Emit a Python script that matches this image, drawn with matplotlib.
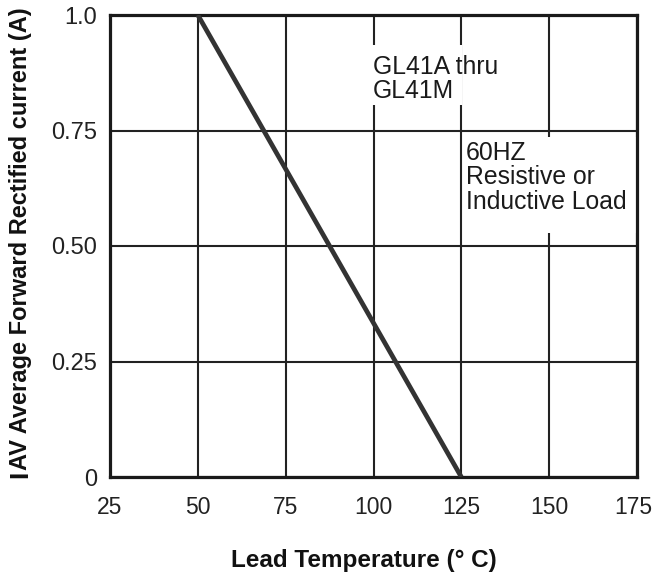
import matplotlib.pyplot as plt
import matplotlib.transforms as mtrans
from matplotlib.patches import Rectangle

# derating curve data
temp = [25, 50, 125]
current = [1.0, 1.0, 0.0]
xticks = [25, 50, 75, 100, 125, 150, 175]
yticks = [0, 0.25, 0.50, 0.75, 1.0]
ylabels = ["0", "0.25", "0.50", "0.75", "1.0"]

W, H = 652, 576
fig = plt.figure(figsize=(W / 100, H / 100), dpi=100)
plt.rcParams['font.family'] = ['Liberation Sans', 'DejaVu Sans']

def px(x0, y0, x1, y1):
    # pixel box -> figure fraction rect
    return [x0 / W, 1 - y1 / H, (x1 - x0) / W, (y1 - y0) / H]

ax = fig.add_axes(px(110, 15, 637, 477))
ax.set_xlim(25, 175)
ax.set_ylim(0, 1.0)

ax.plot(temp[1:], current[1:], color="#333333", lw=3.4, solid_capstyle="butt", zorder=3)
ax.plot(temp[:2], current[:2], color="#aaaaaa", lw=1.0, zorder=2.5)

ax.set_xticks(xticks)
ax.set_xticklabels([str(t) for t in xticks])
ax.set_yticks(yticks)
ax.set_yticklabels(ylabels)
ax.tick_params(length=0, colors="#222222")
ax.tick_params(axis="x", pad=14, labelsize=16.5)
ax.tick_params(axis="y", pad=9, labelsize=17)

# last x label sits a little inside the right edge
last = ax.get_xticklabels()[-1]
last.set_transform(last.get_transform() + mtrans.ScaledTranslation(-3 / 72, 0, fig.dpi_scale_trans))

ax.set_axisbelow(True)
ax.grid(True, color="#222222", lw=1.5)
for s in ax.spines.values():
    s.set_linewidth(2.3)
    s.set_color("#1a1a1a")

# white boxes that break the grid behind the notes
for (x0, y0, x1, y1) in [(371, 45, 462, 105), (463, 137, 636, 233)]:
    r = Rectangle((x0 / W, 1 - y1 / H), (x1 - x0) / W, (y1 - y0) / H,
                  transform=fig.transFigure, fc="white", ec="none", zorder=1)
    ax.add_artist(r)
    r.set_clip_on(False)

note = dict(fontsize=17.8, color="#1a1a1a", transform=fig.transFigure,
            linespacing=1.02, zorder=4)
fig.text(373 / W, 1 - 55 / H, "GL41A thru\nGL41M", va="top", ha="left", **note)
fig.text(466 / W, 1 - 141 / H, "60HZ\nResistive or\nInductive Load", va="top", ha="left", **note)

fig.text(364 / W, 1 - 561 / H, "Lead Temperature (° C)", ha="center", va="center",
         fontsize=17.5, fontweight="bold", color="#111111")

# y label: big "I" followed by the rest, sharing one baseline
fig.text(27 / W, 1 - 478 / H, "I", rotation=90, rotation_mode="anchor",
         ha="left", va="baseline", fontsize=19, fontweight="bold", color="#111111")
fig.text(27 / W, 1 - 470 / H, "AV Average Forward Rectified current (A)", rotation=90,
         rotation_mode="anchor", ha="left", va="baseline", fontsize=17,
         fontweight="bold", color="#111111")

fig.savefig("out.png", dpi=100)
